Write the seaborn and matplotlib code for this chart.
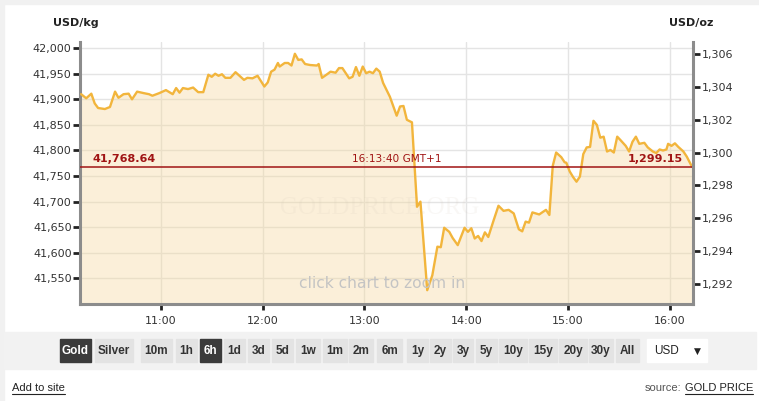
import matplotlib
matplotlib.use("Agg")
import matplotlib.pyplot as plt
import matplotlib.dates as mdates
import matplotlib.ticker as mticker
import matplotlib.transforms as mtrans
from matplotlib.patches import Rectangle
from matplotlib.lines import Line2D
import seaborn as sns
import pandas as pd

# ---------------- data ----------------
times = ["10:13", "10:16", "10:19", "10:21", "10:23", "10:27", "10:30", "10:33", "10:35", "10:38",
         "10:41", "10:43", "10:46", "10:50", "10:53", "10:55", "10:59", "11:03", "11:07", "11:09",
         "11:11", "11:13", "11:16", "11:19", "11:22", "11:25", "11:28", "11:30", "11:32", "11:34",
         "11:36", "11:38", "11:41", "11:44", "11:47", "11:49", "11:51", "11:54", "11:57", "12:01",
         "12:03", "12:05", "12:07", "12:09", "12:10", "12:13", "12:15", "12:17", "12:19", "12:21",
         "12:23", "12:25", "12:28", "12:32", "12:33", "12:35", "12:38", "12:40", "12:43", "12:45",
         "12:47", "12:51", "12:53", "12:55", "12:57", "12:59", "13:01", "13:03", "13:05", "13:07",
         "13:09", "13:11", "13:15", "13:19", "13:21", "13:23", "13:25", "13:28", "13:31", "13:33",
         "13:37", "13:40", "13:43", "13:45", "13:47", "13:50", "13:52", "13:55", "13:59", "14:01",
         "14:03", "14:05", "14:07", "14:09", "14:11", "14:13", "14:16", "14:19", "14:22", "14:25",
         "14:28", "14:31", "14:33", "14:35", "14:37", "14:39", "14:43", "14:47", "14:49", "14:51",
         "14:53", "14:56", "14:58", "14:59", "15:01", "15:03", "15:05", "15:07", "15:09", "15:11",
         "15:13", "15:15", "15:17", "15:19", "15:21", "15:23", "15:25", "15:27", "15:29", "15:31",
         "15:34", "15:36", "15:38", "15:40", "15:42", "15:45", "15:47", "15:50", "15:52", "15:54",
         "15:56", "15:58", "15:59", "16:01", "16:03", "16:05", "16:08", "16:10", "16:13"]

prices_usd_kg = [41910, 41902, 41911, 41892, 41883, 41881, 41885, 41915, 41903, 41910,
                 41911, 41900, 41915, 41912, 41910, 41907, 41912, 41918, 41910, 41922,
                 41913, 41922, 41920, 41923, 41914, 41914, 41948, 41944, 41950, 41946,
                 41949, 41942, 41942, 41953, 41944, 41938, 41942, 41941, 41946, 41925,
                 41933, 41954, 41958, 41971, 41964, 41971, 41971, 41966, 41989, 41977,
                 41978, 41969, 41967, 41966, 41969, 41942, 41949, 41954, 41952, 41961,
                 41961, 41941, 41944, 41963, 41946, 41964, 41951, 41954, 41951, 41960,
                 41954, 41932, 41905, 41868, 41886, 41887, 41860, 41855, 41690, 41700,
                 41527, 41556, 41612, 41611, 41649, 41641, 41629, 41615, 41649, 41641,
                 41648, 41628, 41633, 41623, 41640, 41631, 41662, 41692, 41682, 41684,
                 41677, 41646, 41642, 41661, 41659, 41679, 41675, 41684, 41674, 41770,
                 41796, 41787, 41777, 41776, 41759, 41748, 41739, 41749, 41793, 41806,
                 41807, 41858, 41850, 41825, 41827, 41798, 41801, 41796, 41827, 41820,
                 41809, 41798, 41817, 41827, 41813, 41815, 41806, 41798, 41795, 41802,
                 41800, 41802, 41813, 41809, 41814, 41807, 41798, 41788, 41768.64]

last_price_kg = 41768.64
last_price_oz = 1299.15
last_time_label = "16:13:40 GMT+1"
KG_IN_OZ = 32.1507466

left_ticks = [41550, 41600, 41650, 41700, 41750, 41800, 41850, 41900, 41950, 42000]
right_ticks = [1292, 1294, 1296, 1298, 1300, 1302, 1304, 1306]
hour_ticks = ["11:00", "12:00", "13:00", "14:00", "15:00", "16:00"]
x_start, x_end = "10:12:20", "16:13:40"
y_min, y_max = 41500, 42012

buttons = ["Gold", "Silver", "10m", "1h", "6h", "1d", "3d", "5d", "1w", "1m", "2m",
           "6m", "1y", "2y", "3y", "5y", "10y", "15y", "20y", "30y", "All"]
active_buttons = ["Gold", "6h"]

# ---------------- layout (pixels) ----------------
W, H = 759, 401
button_px = [(60, 91), (95, 133), (141, 172), (176, 197), (200, 221), (224, 245), (248, 269),
             (272, 293), (296, 320), (323, 347), (349, 373), (377, 402), (407, 428), (430, 451),
             (453, 473), (476, 497), (499, 527), (529, 557), (559, 587), (589, 613), (616, 639)]


def fx(x):
    return x / W


def fy(y):
    return 1 - y / H


sns.set_theme(style="white")
plt.rcParams['font.family'] = ['DejaVu Sans']

fig = plt.figure(figsize=(W / 100, H / 100), dpi=100)
fig.patch.set_facecolor("white")

# outer light frame
fig.patches.append(Rectangle((0, fy(4)), 1, 4 / H, transform=fig.transFigure,
                             color="#f1f1f1", zorder=0))
fig.patches.append(Rectangle((0, 0), fx(4), 1, transform=fig.transFigure,
                             color="#f1f1f1", zorder=0))

ax = fig.add_axes([fx(80), fy(304), fx(693) - fx(80), fy(42) - fy(304)])
ax.set_facecolor("white")

day = "2018-01-01 "
df = pd.DataFrame({"time": pd.to_datetime([day + t for t in times]),
                   "price": prices_usd_kg})

ax.fill_between(df["time"], df["price"], y_min, color="#f5d9a0", alpha=0.4,
                linewidth=0, zorder=1)
sns.lineplot(data=df, x="time", y="price", ax=ax, color="#f2b53c", linewidth=1.7,
             zorder=3)
ax.axhline(last_price_kg, color="#a01414", lw=1.1, zorder=4)

ax.set_xlim(pd.Timestamp(day + x_start), pd.Timestamp(day + x_end))
ax.set_ylim(y_min, y_max)
ax.set_xticks([pd.Timestamp(day + h) for h in hour_ticks])
ax.xaxis.set_major_formatter(mdates.DateFormatter("%H:%M"))
ax.set_yticks(left_ticks)
ax.yaxis.set_major_formatter(mticker.FuncFormatter(lambda v, p: f"{v:,.0f}"))
ax.grid(True, color="#e4e4e4", lw=1)
ax.set_axisbelow(True)
ax.set_xlabel("")
ax.set_ylabel("")

for s in ["top", "right"]:
    ax.spines[s].set_visible(False)
for s in ["left", "bottom"]:
    ax.spines[s].set_color("#8c8c8c")
    ax.spines[s].set_linewidth(2.2)

ax.tick_params(axis="y", left=True, length=5, width=2, color="#222", labelsize=8,
               labelcolor="#333", pad=1, direction="out")
ax.tick_params(axis="x", bottom=True, length=4, width=2, color="#222", labelsize=8,
               labelcolor="#333", pad=5, direction="out")

ax2 = ax.twinx()
ax2.set_ylim(y_min / KG_IN_OZ, y_max / KG_IN_OZ)
ax2.set_yticks(right_ticks)
ax2.yaxis.set_major_formatter(mticker.FuncFormatter(lambda v, p: f"{v:,.0f}"))
ax2.grid(False)
for s in ["top", "left", "bottom"]:
    ax2.spines[s].set_visible(False)
ax2.spines["right"].set_color("#8c8c8c")
ax2.spines["right"].set_linewidth(2.2)
ax2.tick_params(axis="y", right=True, length=5, width=2, color="#222", labelsize=8,
                labelcolor="#333", pad=1, direction="out")

# axis unit labels
fig.text(fx(53), fy(23), "USD/kg", fontsize=8, fontweight="bold", color="#222",
         ha="left", va="center")
fig.text(fx(713), fy(23), "USD/oz", fontsize=8, fontweight="bold", color="#222",
         ha="right", va="center")

# current price labels
trans = mtrans.blended_transform_factory(ax.transAxes, ax.transData)
trans = mtrans.offset_copy(trans, fig=fig, y=1.5, units="points")
ax.text(0.0196, last_price_kg, f"{last_price_kg:,.2f}", transform=trans, ha="left",
        va="bottom", fontsize=8, fontweight="bold", color="#a01414", zorder=6)
ax.text(0.517, last_price_kg, last_time_label, transform=trans, ha="center",
        va="bottom", fontsize=7.6, color="#a01414", zorder=6)
ax.text(0.9837, last_price_kg, f"{last_price_oz:,.2f}", transform=trans, ha="right",
        va="bottom", fontsize=8, fontweight="bold", color="#a01414", zorder=6)

# watermark and hint
ax.text(0.489, 0.366, "GOLDPRICE.ORG", transform=ax.transAxes, ha="center", va="center",
        fontsize=18, family="Liberation Serif", color="#cfc3b3", alpha=0.12, zorder=2)
ax.text(0.493, 0.08, "click chart to zoom in", transform=ax.transAxes, ha="center",
        va="center", fontsize=11.2, color="#c4c4c4", zorder=5)

# button bar
fig.patches.append(Rectangle((fx(4), fy(369)), fx(756) - fx(4), 37 / H,
                             transform=fig.transFigure, color="#f2f2f2", zorder=0))
for label, (x0, x1) in zip(buttons, button_px):
    on = label in active_buttons
    fig.patches.append(Rectangle((fx(x0), fy(362)), fx(x1) - fx(x0), 23 / H,
                                 transform=fig.transFigure,
                                 color="#3b3b3b" if on else "#e3e3e3", zorder=1))
    fig.text(fx((x0 + x1) / 2), fy(351), label, ha="center", va="center", fontsize=8.5,
             fontweight="bold", family="Liberation Sans",
             color="white" if on else "#333333", zorder=2)

fig.patches.append(Rectangle((fx(647), fy(362)), fx(707) - fx(647), 23 / H,
                             transform=fig.transFigure, color="white", zorder=1))
fig.text(fx(654), fy(351), "USD", ha="left", va="center", fontsize=8.5,
         family="Liberation Sans", color="#222", zorder=2)
fig.text(fx(697), fy(351), "\u25BC", ha="center", va="center", fontsize=6.5,
         color="#222", zorder=2)

# footer
t_add = fig.text(fx(12), fy(388), "Add to site", ha="left", va="center", fontsize=8,
                 family="Liberation Sans", color="#222")
t_src = fig.text(fx(753), fy(388), "GOLD PRICE", ha="right", va="center", fontsize=8,
                 family="Liberation Sans", color="#222")
fig.canvas.draw()
r = fig.canvas.get_renderer()
bb_src = t_src.get_window_extent(r)
fig.text(bb_src.x0 / W - 3 / W, fy(388), "source:", ha="right", va="center", fontsize=8,
         family="Liberation Sans", color="#555")
for t in (t_add, t_src):
    bb = t.get_window_extent(r)
    fig.add_artist(Line2D([bb.x0 / W, bb.x1 / W], [(bb.y0 - 0.5) / H, (bb.y0 - 0.5) / H],
                          transform=fig.transFigure, color="#222", lw=0.8))

fig.savefig("out.png", dpi=100)
